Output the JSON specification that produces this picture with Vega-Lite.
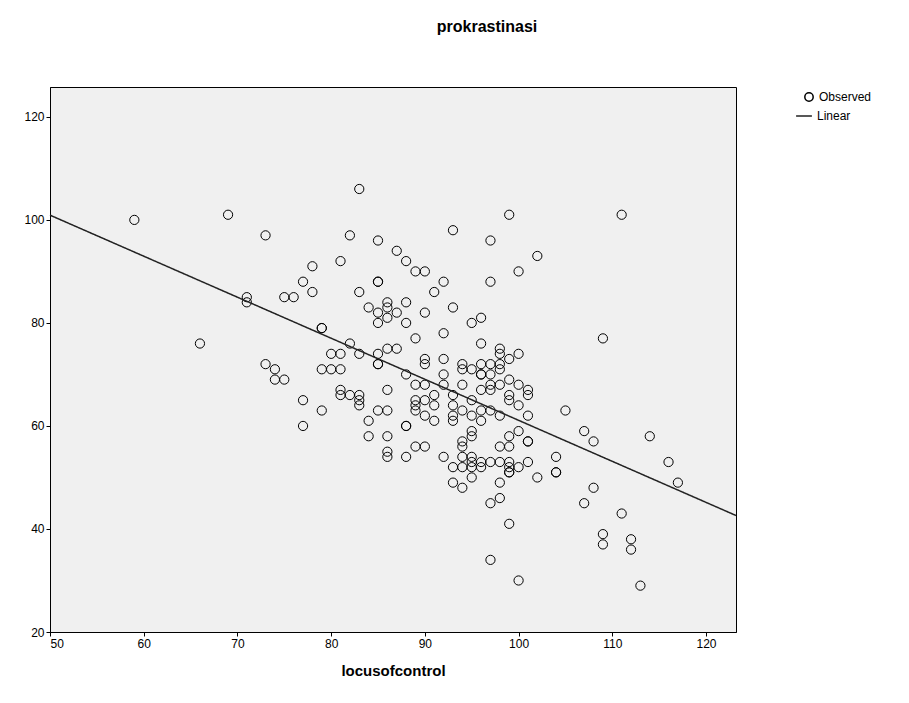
{
  "$schema": "https://vega.github.io/schema/vega-lite/v6.json",
  "autosize": "none",
  "padding": {"left": 50, "top": 87, "right": 173, "bottom": 71},
  "width": 686,
  "height": 545,
  "background": "white",
  "title": {"text": "prokrastinasi", "fontSize": 16, "fontWeight": "bold", "font": "Liberation Sans", "offset": 52, "dx": 94, "color": "black"},
  "data": {"values": [
    {"loc":59,"pro":100},{"loc":66,"pro":76},{"loc":69,"pro":101},{"loc":71,"pro":85},{"loc":71,"pro":84},
    {"loc":73,"pro":97},{"loc":73,"pro":72},{"loc":74,"pro":71},{"loc":74,"pro":69},{"loc":75,"pro":85},{"loc":75,"pro":69},
    {"loc":76,"pro":85},{"loc":77,"pro":88},{"loc":77,"pro":65},{"loc":77,"pro":60},{"loc":78,"pro":91},{"loc":78,"pro":86},
    {"loc":79,"pro":79},{"loc":79,"pro":79},{"loc":79,"pro":71},{"loc":79,"pro":63},{"loc":80,"pro":74},{"loc":80,"pro":71},
    {"loc":81,"pro":92},{"loc":81,"pro":74},{"loc":81,"pro":71},{"loc":81,"pro":67},{"loc":81,"pro":66},
    {"loc":82,"pro":97},{"loc":82,"pro":76},{"loc":82,"pro":66},
    {"loc":83,"pro":106},{"loc":83,"pro":86},{"loc":83,"pro":74},{"loc":83,"pro":66},{"loc":83,"pro":65},{"loc":83,"pro":64},
    {"loc":84,"pro":83},{"loc":84,"pro":61},{"loc":84,"pro":58},
    {"loc":85,"pro":96},{"loc":85,"pro":88},{"loc":85,"pro":88},{"loc":85,"pro":82},{"loc":85,"pro":80},{"loc":85,"pro":74},{"loc":85,"pro":72},{"loc":85,"pro":72},{"loc":85,"pro":63},
    {"loc":86,"pro":84},{"loc":86,"pro":83},{"loc":86,"pro":81},{"loc":86,"pro":75},{"loc":86,"pro":67},{"loc":86,"pro":63},{"loc":86,"pro":58},{"loc":86,"pro":55},{"loc":86,"pro":54},
    {"loc":87,"pro":94},{"loc":87,"pro":82},{"loc":87,"pro":75},
    {"loc":88,"pro":92},{"loc":88,"pro":84},{"loc":88,"pro":80},{"loc":88,"pro":70},{"loc":88,"pro":60},{"loc":88,"pro":60},{"loc":88,"pro":54},
    {"loc":89,"pro":90},{"loc":89,"pro":77},{"loc":89,"pro":68},{"loc":89,"pro":65},{"loc":89,"pro":64},{"loc":89,"pro":63},{"loc":89,"pro":56},
    {"loc":90,"pro":90},{"loc":90,"pro":82},{"loc":90,"pro":73},{"loc":90,"pro":72},{"loc":90,"pro":68},{"loc":90,"pro":65},{"loc":90,"pro":62},{"loc":90,"pro":56},
    {"loc":91,"pro":86},{"loc":91,"pro":66},{"loc":91,"pro":64},{"loc":91,"pro":61},
    {"loc":92,"pro":88},{"loc":92,"pro":78},{"loc":92,"pro":73},{"loc":92,"pro":70},{"loc":92,"pro":68},{"loc":92,"pro":54},
    {"loc":93,"pro":98},{"loc":93,"pro":83},{"loc":93,"pro":66},{"loc":93,"pro":64},{"loc":93,"pro":62},{"loc":93,"pro":61},{"loc":93,"pro":52},{"loc":93,"pro":49},
    {"loc":94,"pro":72},{"loc":94,"pro":71},{"loc":94,"pro":68},{"loc":94,"pro":63},{"loc":94,"pro":57},{"loc":94,"pro":56},{"loc":94,"pro":54},{"loc":94,"pro":52},{"loc":94,"pro":48},
    {"loc":95,"pro":80},{"loc":95,"pro":71},{"loc":95,"pro":65},{"loc":95,"pro":62},{"loc":95,"pro":59},{"loc":95,"pro":58},{"loc":95,"pro":54},{"loc":95,"pro":53},{"loc":95,"pro":52},{"loc":95,"pro":50},
    {"loc":96,"pro":81},{"loc":96,"pro":76},{"loc":96,"pro":72},{"loc":96,"pro":70},{"loc":96,"pro":70},{"loc":96,"pro":67},{"loc":96,"pro":63},{"loc":96,"pro":61},{"loc":96,"pro":53},{"loc":96,"pro":52},
    {"loc":97,"pro":96},{"loc":97,"pro":88},{"loc":97,"pro":72},{"loc":97,"pro":70},{"loc":97,"pro":68},{"loc":97,"pro":67},{"loc":97,"pro":63},{"loc":97,"pro":53},{"loc":97,"pro":45},{"loc":97,"pro":34},
    {"loc":98,"pro":75},{"loc":98,"pro":74},{"loc":98,"pro":72},{"loc":98,"pro":71},{"loc":98,"pro":68},{"loc":98,"pro":62},{"loc":98,"pro":56},{"loc":98,"pro":53},{"loc":98,"pro":49},{"loc":98,"pro":46},
    {"loc":99,"pro":101},{"loc":99,"pro":73},{"loc":99,"pro":69},{"loc":99,"pro":66},{"loc":99,"pro":65},{"loc":99,"pro":58},{"loc":99,"pro":56},{"loc":99,"pro":53},{"loc":99,"pro":52},{"loc":99,"pro":51},{"loc":99,"pro":51},{"loc":99,"pro":41},
    {"loc":100,"pro":90},{"loc":100,"pro":74},{"loc":100,"pro":68},{"loc":100,"pro":64},{"loc":100,"pro":59},{"loc":100,"pro":52},{"loc":100,"pro":30},
    {"loc":101,"pro":67},{"loc":101,"pro":66},{"loc":101,"pro":62},{"loc":101,"pro":57},{"loc":101,"pro":57},{"loc":101,"pro":53},
    {"loc":102,"pro":93},{"loc":102,"pro":50},{"loc":104,"pro":54},{"loc":104,"pro":51},{"loc":104,"pro":51},{"loc":105,"pro":63},
    {"loc":107,"pro":59},{"loc":107,"pro":45},{"loc":108,"pro":57},{"loc":108,"pro":48},
    {"loc":109,"pro":77},{"loc":109,"pro":39},{"loc":109,"pro":37},{"loc":111,"pro":101},{"loc":111,"pro":43},
    {"loc":112,"pro":38},{"loc":112,"pro":36},{"loc":113,"pro":29},{"loc":114,"pro":58},{"loc":116,"pro":53},{"loc":117,"pro":49}
  ]},
  "encoding": {
    "x": {"field": "loc", "type": "quantitative", "title": "locusofcontrol",
      "scale": {"domain": [50, 123.2], "nice": false, "zero": false},
      "axis": {"values": [50,60,70,80,90,100,110,120], "grid": false, "titleFontSize": 15, "titleFontWeight": "bold", "titlePadding": 14}},
    "y": {"field": "pro", "type": "quantitative", "title": null,
      "scale": {"domain": [20, 125.8], "nice": false, "zero": false},
      "axis": {"values": [20,40,60,80,100,120], "grid": false}}
  },
  "layer": [
    {
      "mark": {"type": "point", "filled": false, "color": "black", "strokeWidth": 1, "size": 85, "opacity": 1},
      "encoding": {"shape": {"datum": "Observed", "scale": {"range": ["circle"]},
        "legend": {"title": null, "orient": "none", "legendX": 753, "legendY": 4, "symbolStrokeColor": "black", "symbolSize": 70}}}
    },
    {
      "transform": [{"regression": "pro", "on": "loc", "extent": [50, 123.2]}],
      "mark": {"type": "line", "color": "#222", "strokeWidth": 1.5},
      "encoding": {"strokeDash": {"datum": "Linear", "scale": {"range": [[1,0]]},
        "legend": {"title": null, "orient": "none", "legendX": 745, "legendY": 20, "symbolStrokeColor": "#222", "symbolType": "stroke", "symbolSize": 250}}}
    }
  ],
  "config": {
    "font": "Liberation Sans",
    "view": {"fill": "#F0F0F0", "stroke": "black", "strokeWidth": 1},
    "axis": {"labelFontSize": 12, "labelColor": "black", "titleColor": "black", "domainColor": "black", "tickColor": "black", "tickSize": 4, "labelPadding": 2},
    "legend": {"labelFontSize": 12, "labelColor": "black"}
  }
}
